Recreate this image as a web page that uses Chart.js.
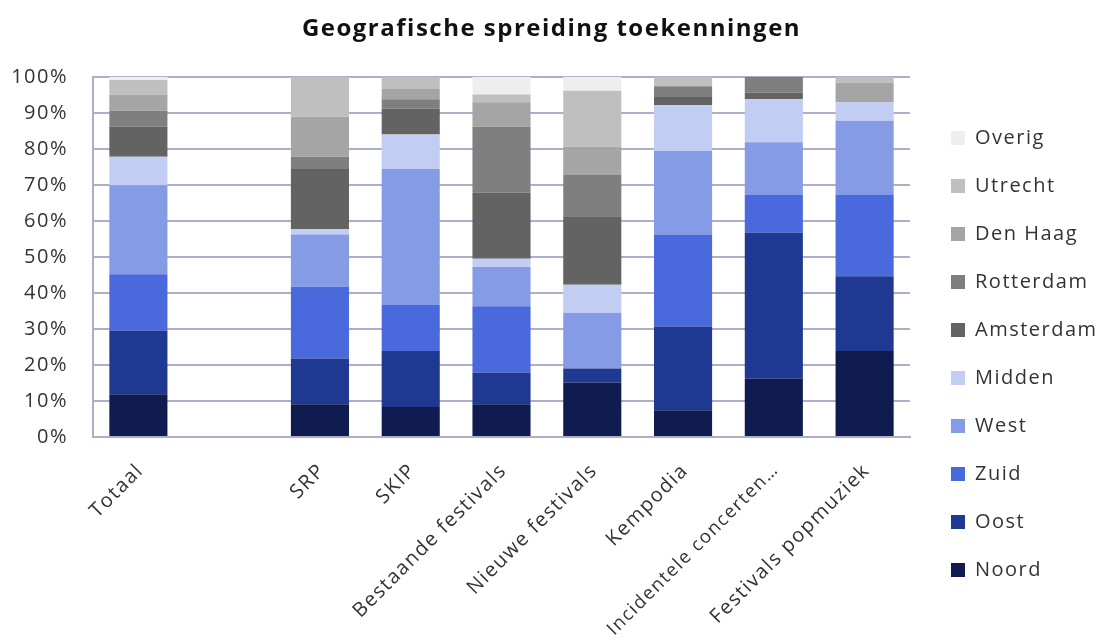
<!DOCTYPE html>
<html>
<head>
<meta charset="utf-8">
<script src="https://cdn.jsdelivr.net/npm/chart.js@4.4.1/dist/chart.umd.min.js"></script>
<style>
html,body{margin:0;padding:0;background:#fff;}
canvas{display:block;}
</style>
</head>
<body>
<canvas id="c" width="1103" height="640"></canvas>
<script>
const categories = ['Totaal', '', 'SRP', 'SKIP', 'Bestaande festivals', 'Nieuwe festivals', 'Kempodia', 'Incidentele concerten…', 'Festivals popmuziek'];
const noord     = [11.9, null,  9.1,  8.3,  9.1, 15.1,  7.4, 16.2, 23.9];
const oost      = [17.7, null, 12.7, 15.6,  8.8,  3.9, 23.3, 40.6, 20.7];
const zuid      = [15.6, null, 19.9, 12.9, 18.4,  0.0, 25.5, 10.5, 22.7];
const west      = [24.7, null, 14.5, 37.6, 10.9, 15.5, 23.2, 14.5, 20.5];
const midden    = [ 7.9, null,  1.5,  9.6,  2.3,  7.8, 12.7, 12.0,  5.1];
const amsterdam = [ 8.3, null, 16.7,  7.2, 18.4, 19.0,  2.3,  1.8,  0.0];
const rotterdam = [ 4.5, null,  3.4,  2.6, 18.2, 11.6,  3.0,  4.4,  0.0];
const denHaag   = [ 4.5, null, 11.1,  2.8,  6.8,  7.7,  0.0,  0.0,  5.5];
const utrecht   = [ 4.0, null, 11.1,  3.4,  2.2, 15.5,  2.6,  0.0,  1.6];
const overig    = [ 0.9, null,  0.0,  0.0,  4.9,  3.9,  0.0,  0.0,  0.0];
const yTicks = [0, 10, 20, 30, 40, 50, 60, 70, 80, 90, 100];

const seriesNames = ['Noord', 'Oost', 'Zuid', 'West', 'Midden', 'Amsterdam', 'Rotterdam', 'Den Haag', 'Utrecht', 'Overig'];
const seriesData = [noord, oost, zuid, west, midden, amsterdam, rotterdam, denHaag, utrecht, overig];
const seriesColors = ['#101c50', '#1f3993', '#4a69dc', '#869be5', '#c2cdf3', '#636363', '#7f7f7f', '#a5a5a5', '#bfbfbf', '#eeeeee'];

const FONT = "'Open Sans', 'Noto Sans', sans-serif";
const SPACING = '1.5px';

const spacingPlugin = {
  id: 'spacing',
  beforeUpdate(c) { c.ctx.letterSpacing = SPACING; },
  beforeLayout(c) { c.ctx.letterSpacing = SPACING; },
  beforeDraw(c) { c.ctx.letterSpacing = SPACING; }
};

new Chart(document.getElementById('c'), {
  type: 'bar',
  data: {
    labels: categories,
    datasets: seriesNames.map((n, i) => ({
      label: n,
      data: seriesData[i],
      backgroundColor: seriesColors[i],
      borderWidth: 0,
      categoryPercentage: 1.0,
      barPercentage: 0.64
    }))
  },
  plugins: [spacingPlugin],
  options: {
    responsive: false,
    animation: false,
    devicePixelRatio: 1,
    layout: { padding: 0 },
    plugins: {
      title: {
        display: true,
        text: 'Geografische spreiding toekenningen',
        color: '#111',
        font: { family: FONT, size: 24, weight: 'bold', lineHeight: 1.2 },
        padding: { top: 15, bottom: 33 }
      },
      legend: {
        position: 'right',
        reverse: true,
        align: 'start',
        maxWidth: 180,
        title: { display: true, text: '', font: { size: 10, lineHeight: 1.2 }, padding: { top: 88, bottom: 0 } },
        labels: {
          boxWidth: 14,
          boxHeight: 14,
          padding: 28,
          color: '#333',
          font: { family: FONT, size: 20 }
        }
      },
      tooltip: { enabled: false }
    },
    scales: {
      x: {
        stacked: true,
        grid: { display: false, drawTicks: false },
        border: { display: true, color: '#aeaecb', width: 2 },
        ticks: {
          minRotation: 45,
          maxRotation: 45,
          autoSkip: false,
          padding: 22,
          labelOffset: 2,
          color: '#333',
          font: c => ({ family: FONT, size: (c.index === 7 ? 18.5 : 20) })
        },
        afterFit: s => { s.height = 203; }
      },
      y: {
        stacked: true,
        min: 0,
        max: 100,
        afterBuildTicks: s => { s.ticks = yTicks.map(v => ({ value: v })); },
        grid: { color: '#aeaecb', lineWidth: 2, drawTicks: false },
        border: { display: true, color: '#aeaecb', width: 2 },
        ticks: {
          padding: 25,
          color: '#333',
          font: { family: FONT, size: 20 },
          callback: v => v + '%'
        },
        afterFit: s => { s.width = 93; }
      },
      gap: {
        position: 'right',
        display: true,
        grid: { display: false, drawTicks: false },
        border: { display: false },
        ticks: { display: false },
        afterFit: s => { s.width = 13; }
      }
    }
  }
});
</script>
</body>
</html>
